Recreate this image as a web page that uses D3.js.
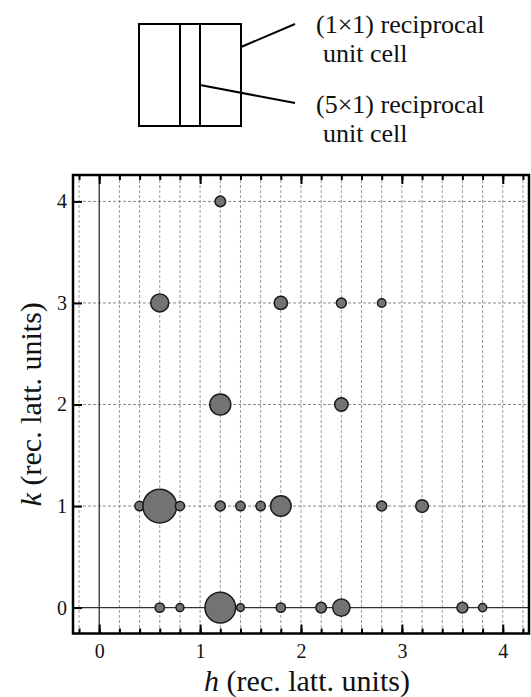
<!DOCTYPE html>
<html>
<head>
<meta charset="utf-8">
<script src="https://cdn.jsdelivr.net/npm/d3@7"></script>
<style>
  body { margin: 0; background: #fff; }
  svg text { font-family: "Liberation Serif", "Times New Roman", Tinos, serif; }
  .axis path { display: none; }
  .axis line { stroke: #000; stroke-width: 2; }
</style>
</head>
<body>
<svg id="chart" width="531" height="697" font-family="Liberation Serif"></svg>
<script>
// diffraction spots: h, k and spot intensity (arb. units)
const spotH = [1.2,
  0.6, 1.8, 2.4, 2.8,
  1.2, 2.4,
  0.4, 0.6, 0.8, 1.2, 1.4, 1.6, 1.8, 2.8, 3.2,
  0.6, 0.8, 1.2, 1.4, 1.8, 2.2, 2.4, 3.6, 3.8];
const spotK = [4,
  3, 3, 3, 3,
  2, 2,
  1, 1, 1, 1, 1, 1, 1, 1, 1,
  0, 0, 0, 0, 0, 0, 0, 0, 0];
const spotI = [28,
  81, 44, 25, 18,
  110, 45,
  22, 285, 21, 25, 22, 22, 106, 25, 40,
  22, 16, 235, 15, 22, 28, 75, 30, 17];
const majorTicks = [0, 1, 2, 3, 4];
const minorTicks = d3.range(-1, 22).map(i => +(i * 0.2).toFixed(1));
const kTicks = [0, 1, 2, 3, 4];

const serif = "Liberation Serif";
const svg = d3.select("svg#chart");
const plotLeft = 73, plotRight = 529, plotTop = 175, plotBottom = 633.5;

const x = d3.scaleLinear().domain([-0.26, 4.26]).range([plotLeft, plotRight]);
const y = d3.scaleLinear().domain([-0.255, 4.26]).range([plotBottom, plotTop]);
const r = d3.scaleSqrt().domain([0, 100]).range([0, 10]);

//inset: reciprocal unit cells
const inset = svg.append("g").attr("id", "inset")
  .attr("fill", "none").attr("stroke", "#000").attr("stroke-width", 2);
inset.append("rect").attr("x", 139).attr("y", 24).attr("width", 102).attr("height", 102);
inset.append("line").attr("x1", 180).attr("x2", 180).attr("y1", 24).attr("y2", 126);
inset.append("line").attr("x1", 200).attr("x2", 200).attr("y1", 24).attr("y2", 126);
inset.append("line").attr("x1", 241).attr("y1", 47).attr("x2", 295).attr("y2", 24);
inset.append("line").attr("x1", 200).attr("y1", 85).attr("x2", 295).attr("y2", 103);

const insetText = svg.append("g").attr("fill", "#111");
const insetLines = [["(1×1) reciprocal", 316, 33], ["unit cell", 323, 62],
                    ["(5×1) reciprocal", 316, 113], ["unit cell", 323, 142]];
insetLines.forEach(([t, tx, ty]) => {
  insetText.append("text").attr("x", tx).attr("y", ty)
    .attr("font-family", serif).style("font-family", serif).style("font-size", "26px")
    .text(t);
});

//gridlines
const grid = svg.append("g").attr("id", "grid");
grid.selectAll("line.v")
  .data(minorTicks.filter(d => d !== 0))
  .join("line")
  .attr("class", "v")
  .attr("x1", d => x(d)).attr("x2", d => x(d))
  .attr("y1", plotTop).attr("y2", plotBottom)
  .attr("stroke", "#9a9a9a").attr("stroke-width", 1).attr("stroke-dasharray", "3,2");
grid.selectAll("line.h")
  .data(kTicks.filter(d => d !== 0))
  .join("line")
  .attr("class", "h")
  .attr("x1", plotLeft).attr("x2", plotRight)
  .attr("y1", d => y(d)).attr("y2", d => y(d))
  .attr("stroke", "#8a8a8a").attr("stroke-width", 1).attr("stroke-dasharray", "3,2");

// zero lines
grid.append("line")
  .attr("x1", x(0)).attr("x2", x(0)).attr("y1", plotTop).attr("y2", plotBottom)
  .attr("stroke", "#333").attr("stroke-width", 1.3);
grid.append("line")
  .attr("x1", plotLeft).attr("x2", plotRight).attr("y1", y(0)).attr("y2", y(0))
  .attr("stroke", "#333").attr("stroke-width", 1.3);

//spots
const spots = spotH.map((h, i) => ({h: h, k: spotK[i], I: spotI[i]}));
svg.append("g").attr("id", "spots")
  .selectAll("circle")
  .data(spots)
  .join("circle")
  .attr("cx", d => x(d.h))
  .attr("cy", d => y(d.k))
  .attr("r", d => r(d.I))
  .attr("fill", "#737373")
  .attr("stroke", "#1a1a1a")
  .attr("stroke-width", 1.5);

//axes
const styleAxis = g => {
  g.attr("font-family", serif);
  g.selectAll("text")
    .attr("font-family", serif)
    .style("font-family", serif).style("font-size", "20px").attr("fill", "#111");
};
svg.append("g").attr("class", "axis")
  .attr("transform", `translate(0,${plotBottom})`)
  .call(d3.axisBottom(x).tickValues(majorTicks).tickSize(-9).tickPadding(10).tickFormat(d3.format("d")))
  .call(styleAxis);
svg.append("g").attr("class", "axis")
  .attr("transform", `translate(0,${plotBottom})`)
  .call(d3.axisBottom(x).tickValues(minorTicks).tickSize(-5).tickFormat(""));
svg.append("g").attr("class", "axis")
  .attr("transform", `translate(0,${plotTop})`)
  .call(d3.axisTop(x).tickValues(majorTicks).tickSize(-9).tickFormat(""));
svg.append("g").attr("class", "axis")
  .attr("transform", `translate(0,${plotTop})`)
  .call(d3.axisTop(x).tickValues(minorTicks).tickSize(-5).tickFormat(""));
svg.append("g").attr("class", "axis")
  .attr("transform", `translate(${plotLeft},0)`)
  .call(d3.axisLeft(y).tickValues(kTicks).tickSize(-9).tickPadding(6).tickFormat(d3.format("d")))
  .call(styleAxis);

// frame
svg.append("rect")
  .attr("x", plotLeft).attr("y", plotTop)
  .attr("width", plotRight - plotLeft).attr("height", plotBottom - plotTop)
  .attr("fill", "none").attr("stroke", "#000").attr("stroke-width", 2.5);

//axis titles
const xTitle = svg.append("text")
  .attr("x", 307).attr("y", 691)
  .attr("text-anchor", "middle").attr("font-family", serif)
  .style("font-family", serif).style("font-size", "30px").attr("fill", "#111");
xTitle.append("tspan").attr("font-style", "italic").text("h");
xTitle.append("tspan").text(" (rec. latt. units)");

const yTitle = svg.append("text")
  .attr("transform", `translate(41,${(plotTop + plotBottom) / 2}) rotate(-90)`)
  .attr("text-anchor", "middle").attr("font-family", serif)
  .style("font-family", serif).style("font-size", "30px").attr("fill", "#111");
yTitle.append("tspan").attr("font-style", "italic").text("k");
yTitle.append("tspan").text(" (rec. latt. units)");
</script>
</body>
</html>
